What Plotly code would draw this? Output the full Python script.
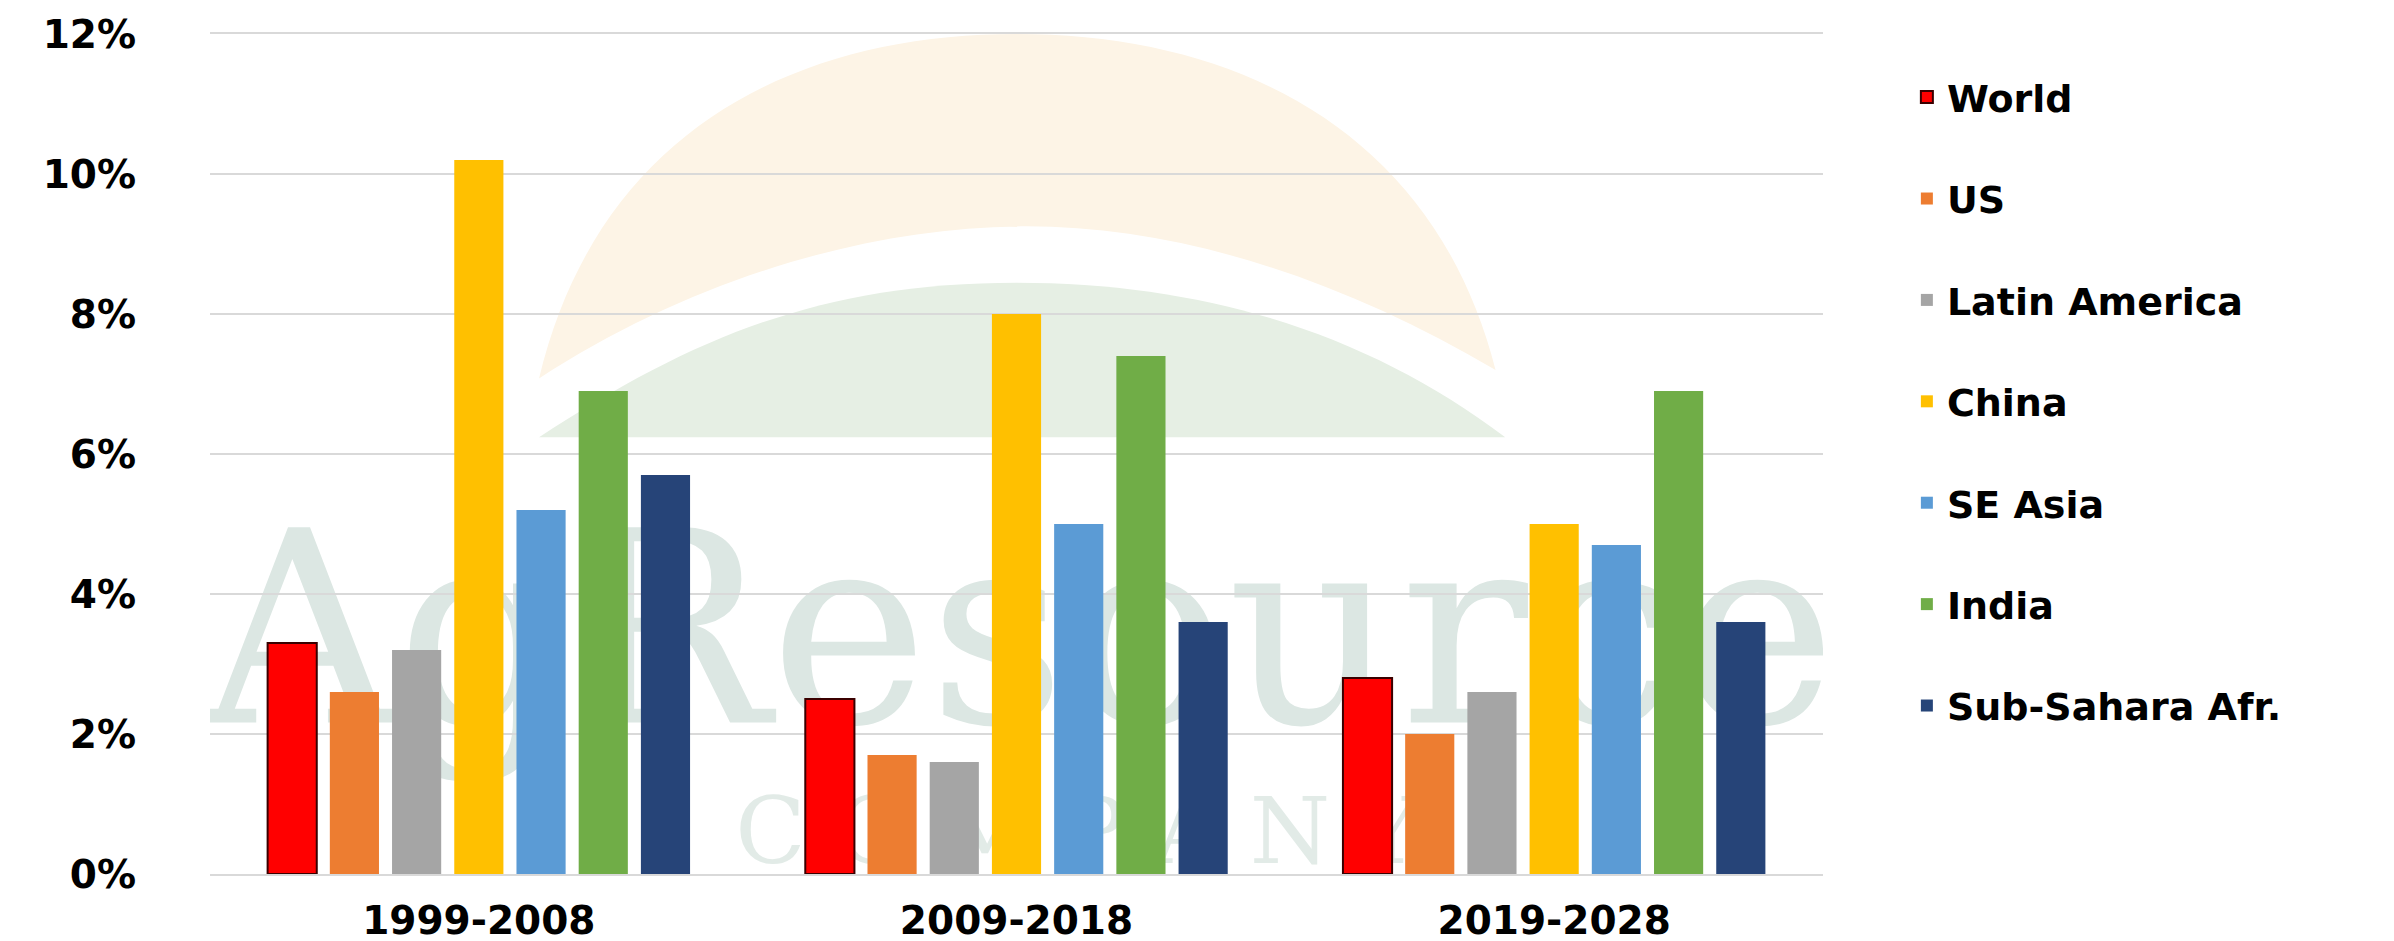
import plotly.graph_objects as go

periods = ["1999-2008", "2009-2018", "2019-2028"]
series_names = ["World", "US", "Latin America", "China", "SE Asia", "India", "Sub-Sahara Afr."]
world = [3.3, 2.5, 2.8]
us = [2.6, 1.7, 2.0]
latin_america = [3.2, 1.6, 2.6]
china = [10.2, 8.0, 5.0]
se_asia = [5.2, 5.0, 4.7]
india = [6.9, 7.4, 6.9]
sub_sahara = [5.7, 3.6, 3.6]
series_values = [world, us, latin_america, china, se_asia, india, sub_sahara]
colors = ["#ff0000", "#ed7d31", "#a5a5a5", "#ffc000", "#5b9bd5", "#70ad47", "#264478"]
y_ticks = [0, 2, 4, 6, 8, 10, 12]
y_tick_labels = [f"{v}%" for v in y_ticks]

W, H = 2394, 941
L, R, T, B = 202, 579, 26, 75

fig = go.Figure()

# Background watermark (on a hidden subplot drawn beneath the bars)
fig.add_trace(go.Scatter(
    x=[0.502, 0.538], y=[0.26, 0.04],
    mode="text",
    text=["AgResource", "C O M P A N Y"],
    textfont=dict(family="DejaVu Serif", size=[268, 92], color=["#dce7e3", "#e2ebe7"]),
    xaxis="x", yaxis="y", showlegend=False, hoverinfo="skip",
))

for name, vals, col in zip(series_names, series_values, colors):
    fig.add_trace(go.Bar(
        name=name, x=periods, y=vals,
        marker=dict(color=col,
                    line=dict(color="#3a0000" if name == "World" else col,
                              width=2 if name == "World" else 0)),
        xaxis="x2", yaxis="y2", legendgroup=name,
    ))

tick_font = dict(family="DejaVu Sans", size=39, color="#000000", weight="bold")

fig.update_layout(
    width=W, height=H,
    margin=dict(l=L, r=R, t=T, b=B, autoexpand=False),
    paper_bgcolor="white", plot_bgcolor="rgba(0,0,0,0)",
    barmode="group", bargap=0.19, bargroupgap=0.21,
    xaxis=dict(range=[0, 1], visible=False, domain=[0, 1], anchor="y", fixedrange=True,
               automargin=False),
    yaxis=dict(range=[0, 1], visible=False, domain=[0, 1], anchor="x", fixedrange=True,
               automargin=False),
    xaxis2=dict(domain=[0, 1], anchor="y2", showgrid=False, showline=True, mirror=True,
                linecolor="#d9d9d9", linewidth=1.5, ticks="", automargin=False,
                tickfont=dict(family="DejaVu Sans", size=39, color="#000000", weight="bold"),
                ticklabelstandoff=11),
    yaxis2=dict(domain=[0, 1], anchor="x2", range=[0, 12], tickvals=y_ticks, ticktext=y_tick_labels,
                showgrid=True, gridcolor="#d9d9d9", gridwidth=1.5, zeroline=False, automargin=False,
                showline=False, ticks="", tickfont=tick_font, ticklabelstandoff=73),
    legend=dict(x=1.052, xanchor="left", y=0.962, yanchor="top",
                font=dict(family="DejaVu Sans", size=38, color="#000000", weight="bold"),
                tracegroupgap=49, itemwidth=30, bgcolor="rgba(0,0,0,0)"),
    showlegend=True,
)

# Faint logo arcs behind the bars
fig.add_shape(type="path", xref="x", yref="y", layer="below", line=dict(width=0),
              fillcolor="#fdf4e6",
              path="M 0.204,0.59 C 0.24,0.88 0.36,1.0 0.50,1.0 C 0.64,1.0 0.76,0.88 0.797,0.60 "
                   "C 0.70,0.71 0.60,0.771 0.506,0.771 C 0.41,0.771 0.30,0.71 0.204,0.59 Z")
fig.add_shape(type="path", xref="x", yref="y", layer="below", line=dict(width=0),
              fillcolor="#e6efe4",
              path="M 0.204,0.52 C 0.30,0.64 0.38,0.704 0.50,0.704 C 0.62,0.704 0.72,0.64 0.803,0.52 Z")

fig.write_html("out.html")
